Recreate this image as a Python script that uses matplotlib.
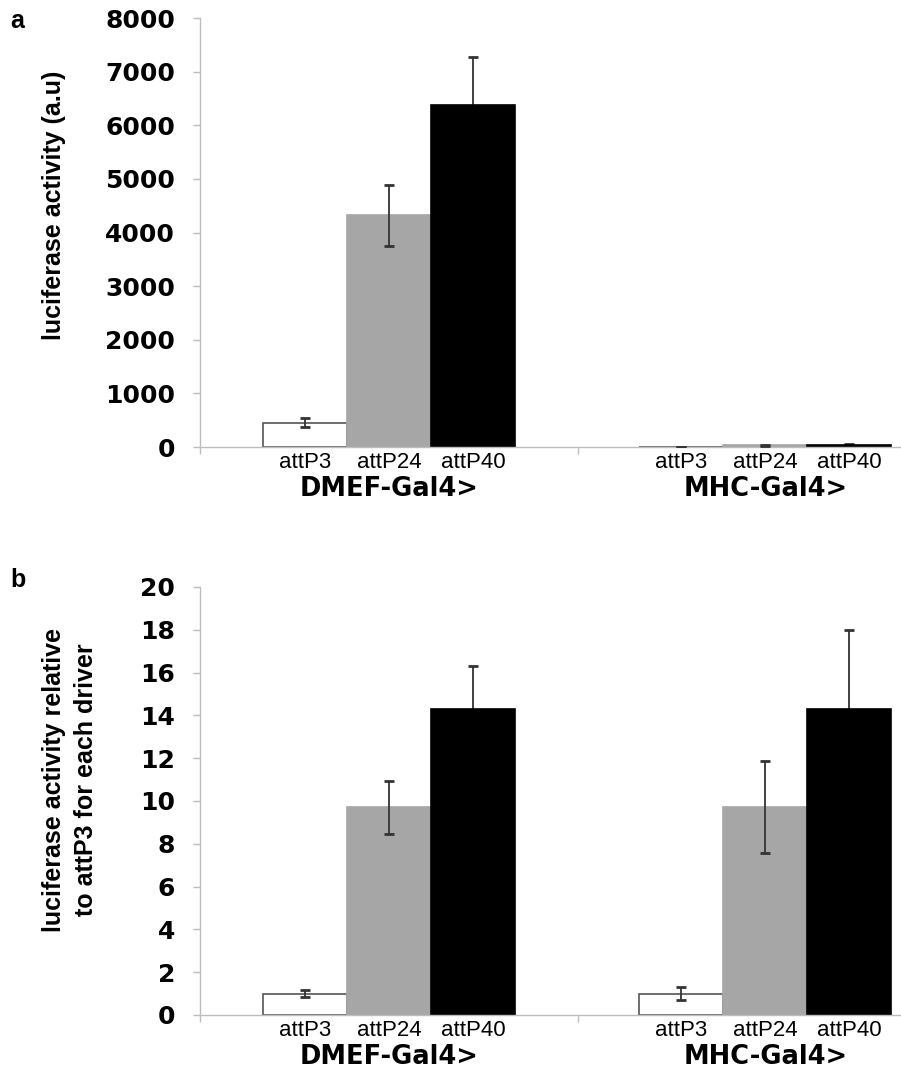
# Luciferase activity bar charts, panels a and b
import matplotlib as mpl
mpl.use('Agg')
import matplotlib.pyplot as plt

# bar order within each driver group
lines = ['attP3', 'attP24', 'attP40']
drivers = ['DMEF-Gal4>', 'MHC-Gal4>']

# panel a, luciferase activity (a.u)
a_dmef = [450, 4320, 6380]
a_dmef_err = [85, 570, 900]
a_mhc = [3, 29, 43]
a_mhc_err = [1, 8, 10]

# panel b, relative to attP3 for each driver
b_dmef = [1.0, 9.7, 14.3]
b_dmef_err = [0.18, 1.25, 2.0]
b_mhc = [1.0, 9.7, 14.3]
b_mhc_err = [0.32, 2.15, 3.7]

a_ticks = [0, 1000, 2000, 3000, 4000, 5000, 6000, 7000, 8000]
b_ticks = [0, 2, 4, 6, 8, 10, 12, 14, 16, 18, 20]

colors = ['white', '#a6a6a6', 'black']
AXIS_GRAY = '#bdbdbd'

# bar centres in bar-width units from the left axis
group_pos = [[1.25, 2.25, 3.25], [5.73, 6.73, 7.73]]


def draw_panel(ax, vals, errs, ticks):
    for g in range(2):
        for i in range(3):
            x = group_pos[g][i]
            ax.bar(x, vals[g][i], width=1.0, color=colors[i],
                   edgecolor='#555555' if i == 0 else colors[i], linewidth=1.2, zorder=2)
            # error line is lost inside the black bars in the original
            ez = 1.5 if i == 2 else 3
            ax.errorbar(x, vals[g][i], yerr=errs[g][i], color='#333333',
                        elinewidth=1.3, capsize=3.6, capthick=2, zorder=ez)
            ax.annotate(lines[i], xy=(x, 0), xycoords=('data', 'axes fraction'),
                        xytext=(0, -5), textcoords='offset pixels', ha='center', va='top',
                        fontsize=16, family='Liberation Sans')
        ax.annotate(drivers[g], xy=(group_pos[g][1], 0), xycoords=('data', 'axes fraction'),
                    xytext=(0, -29), textcoords='offset pixels', ha='center', va='top',
                    fontsize=18.5, fontweight='bold', family='DejaVu Sans')

    ax.set_xlim(0, 8.345)
    ax.set_ylim(ticks[0], ticks[-1])
    ax.set_yticks(ticks)
    ax.set_yticklabels([str(t) for t in ticks], fontsize=18, fontweight='bold')
    ax.set_xticks([0, 4.5])
    ax.set_xticklabels([])
    ax.tick_params(axis='both', direction='out', length=5, width=1, color=AXIS_GRAY, pad=13)
    for s in ['top', 'right']:
        ax.spines[s].set_visible(False)
    for s in ['left', 'bottom']:
        ax.spines[s].set_color(AXIS_GRAY)
        ax.spines[s].set_linewidth(1)


fig = plt.figure(figsize=(9.01, 10.69), dpi=100)

ax_a = fig.add_axes([200 / 901, 1 - 447 / 1069, 701 / 901, 429 / 1069])
draw_panel(ax_a, [a_dmef, a_mhc], [a_dmef_err, a_mhc_err], a_ticks)

ax_b = fig.add_axes([200 / 901, 1 - 1015 / 1069, 701 / 901, 428 / 1069])
draw_panel(ax_b, [b_dmef, b_mhc], [b_dmef_err, b_mhc_err], b_ticks)

# y labels and panel letters
fig.text(54 / 901, 1 - 205 / 1069, 'luciferase activity (a.u)', rotation=90,
         ha='center', va='center', fontsize=18, fontweight='bold', family='Liberation Sans')
fig.text(70 / 901, 1 - 780 / 1069, 'luciferase activity relative\nto attP3 for each driver',
         rotation=90, ha='center', va='center', fontsize=18, fontweight='bold',
         family='Liberation Sans', linespacing=1.45)
fig.text(10 / 901, 1 - 21 / 1069, 'a', ha='left', va='center', fontsize=18,
         fontweight='bold', family='Liberation Sans')
fig.text(10 / 901, 1 - 580 / 1069, 'b', ha='left', va='center', fontsize=18,
         fontweight='bold', family='Liberation Sans')

plt.savefig('out.png', dpi=100)
